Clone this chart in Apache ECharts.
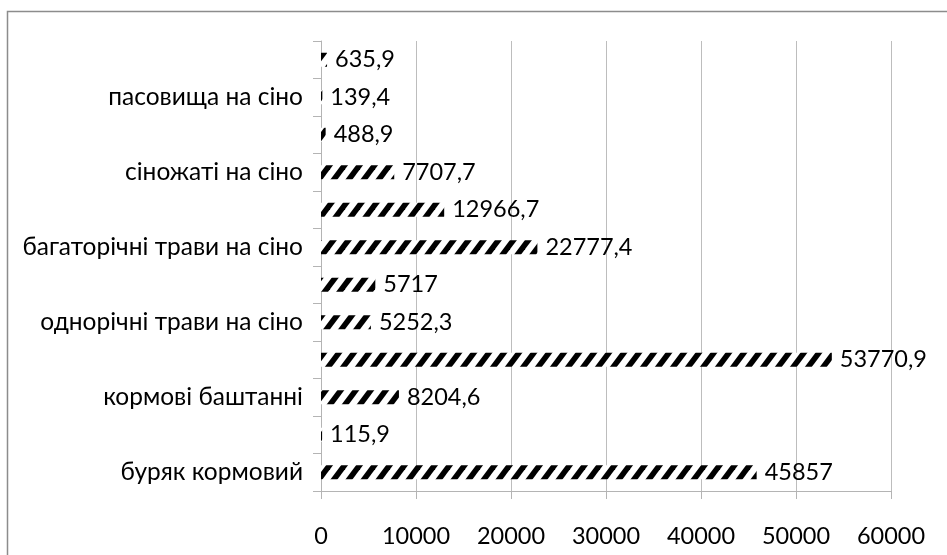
<!DOCTYPE html>
<html>
<head>
<meta charset="utf-8">
<script src="https://cdn.jsdelivr.net/npm/echarts@6/dist/echarts.min.js"></script>
<style>
  html, body { margin: 0; padding: 0; background: #fff; }
  #chart { width: 947px; height: 555px; }
</style>
</head>
<body>
<div id="chart"></div>
<script>
// Categories, bottom to top; unnamed rows keep an empty label
const categories = [
  'буряк кормовий', '', 'кормові баштанні', '', 'однорічні трави на сіно', '',
  'багаторічні трави на сіно', '', 'сіножаті на сіно', '', 'пасовища на сіно', ''
];
const values = [45857, 115.9, 8204.6, 53770.9, 5252.3, 5717, 22777.4, 12966.7, 7707.7, 488.9, 139.4, 635.9];
const xTicks = [0, 10000, 20000, 30000, 40000, 50000, 60000];

const FONT = 'Lato, "Open Sans", sans-serif';
const NUM_SIZE = 23.5;
const CAT_SIZE = 24.5;

// Diagonal hatch tile: black stripes rising to the right
function hatchTile() {
  const w = 15, h = 20, t = 7;
  const c = document.createElement('canvas');
  c.width = w; c.height = h;
  const ctx = c.getContext('2d');
  ctx.fillStyle = '#ffffff';
  ctx.fillRect(0, 0, w, h);
  ctx.fillStyle = '#000000';
  for (const dx of [-w, 0, w]) {
    ctx.beginPath();
    ctx.moveTo(dx, h);
    ctx.lineTo(dx + w, 0);
    ctx.lineTo(dx + w + t, 0);
    ctx.lineTo(dx + t, h);
    ctx.closePath();
    ctx.fill();
  }
  return c;
}

const chart = echarts.init(document.getElementById('chart'), null, { renderer: 'canvas' });
chart.setOption({
  animation: false,
  backgroundColor: '#ffffff',
  graphic: [{
    type: 'rect',
    shape: { x: 7.5, y: 11.5, width: 1000, height: 600 },
    style: { fill: 'none', stroke: '#8c8c8c', lineWidth: 1.5 },
    silent: true, z: -1
  }],
  grid: { left: 321, top: 41, right: 56, bottom: 64, containLabel: false },
  xAxis: {
    type: 'value',
    min: xTicks[0],
    max: xTicks[xTicks.length - 1],
    interval: xTicks[1] - xTicks[0],
    axisLine: { show: true, lineStyle: { color: '#b4b4b4', width: 1 } },
    axisTick: { show: true, length: 8, lineStyle: { color: '#b4b4b4' } },
    splitLine: { show: true, lineStyle: { color: '#bdbdbd', width: 1 } },
    axisLabel: {
      color: '#000', fontFamily: FONT, fontSize: NUM_SIZE, margin: 33,
      formatter: v => String(v)
    }
  },
  yAxis: {
    type: 'category',
    data: categories,
    axisLine: { show: true, lineStyle: { color: '#b4b4b4', width: 1 } },
    axisTick: { show: true, length: 8, alignWithLabel: false, interval: 0, lineStyle: { color: '#b4b4b4' } },
    axisLabel: { color: '#000', fontFamily: FONT, fontSize: CAT_SIZE, margin: 18, interval: 0 }
  },
  series: [{
    type: 'bar',
    data: values,
    barWidth: 14,
    itemStyle: { color: { image: hatchTile(), repeat: 'repeat' } },
    label: {
      show: true,
      position: 'right',
      distance: 8,
      color: '#000',
      fontFamily: FONT,
      fontSize: NUM_SIZE,
      formatter: p => String(p.value).replace('.', ',')
    }
  }]
});
</script>
</body>
</html>
